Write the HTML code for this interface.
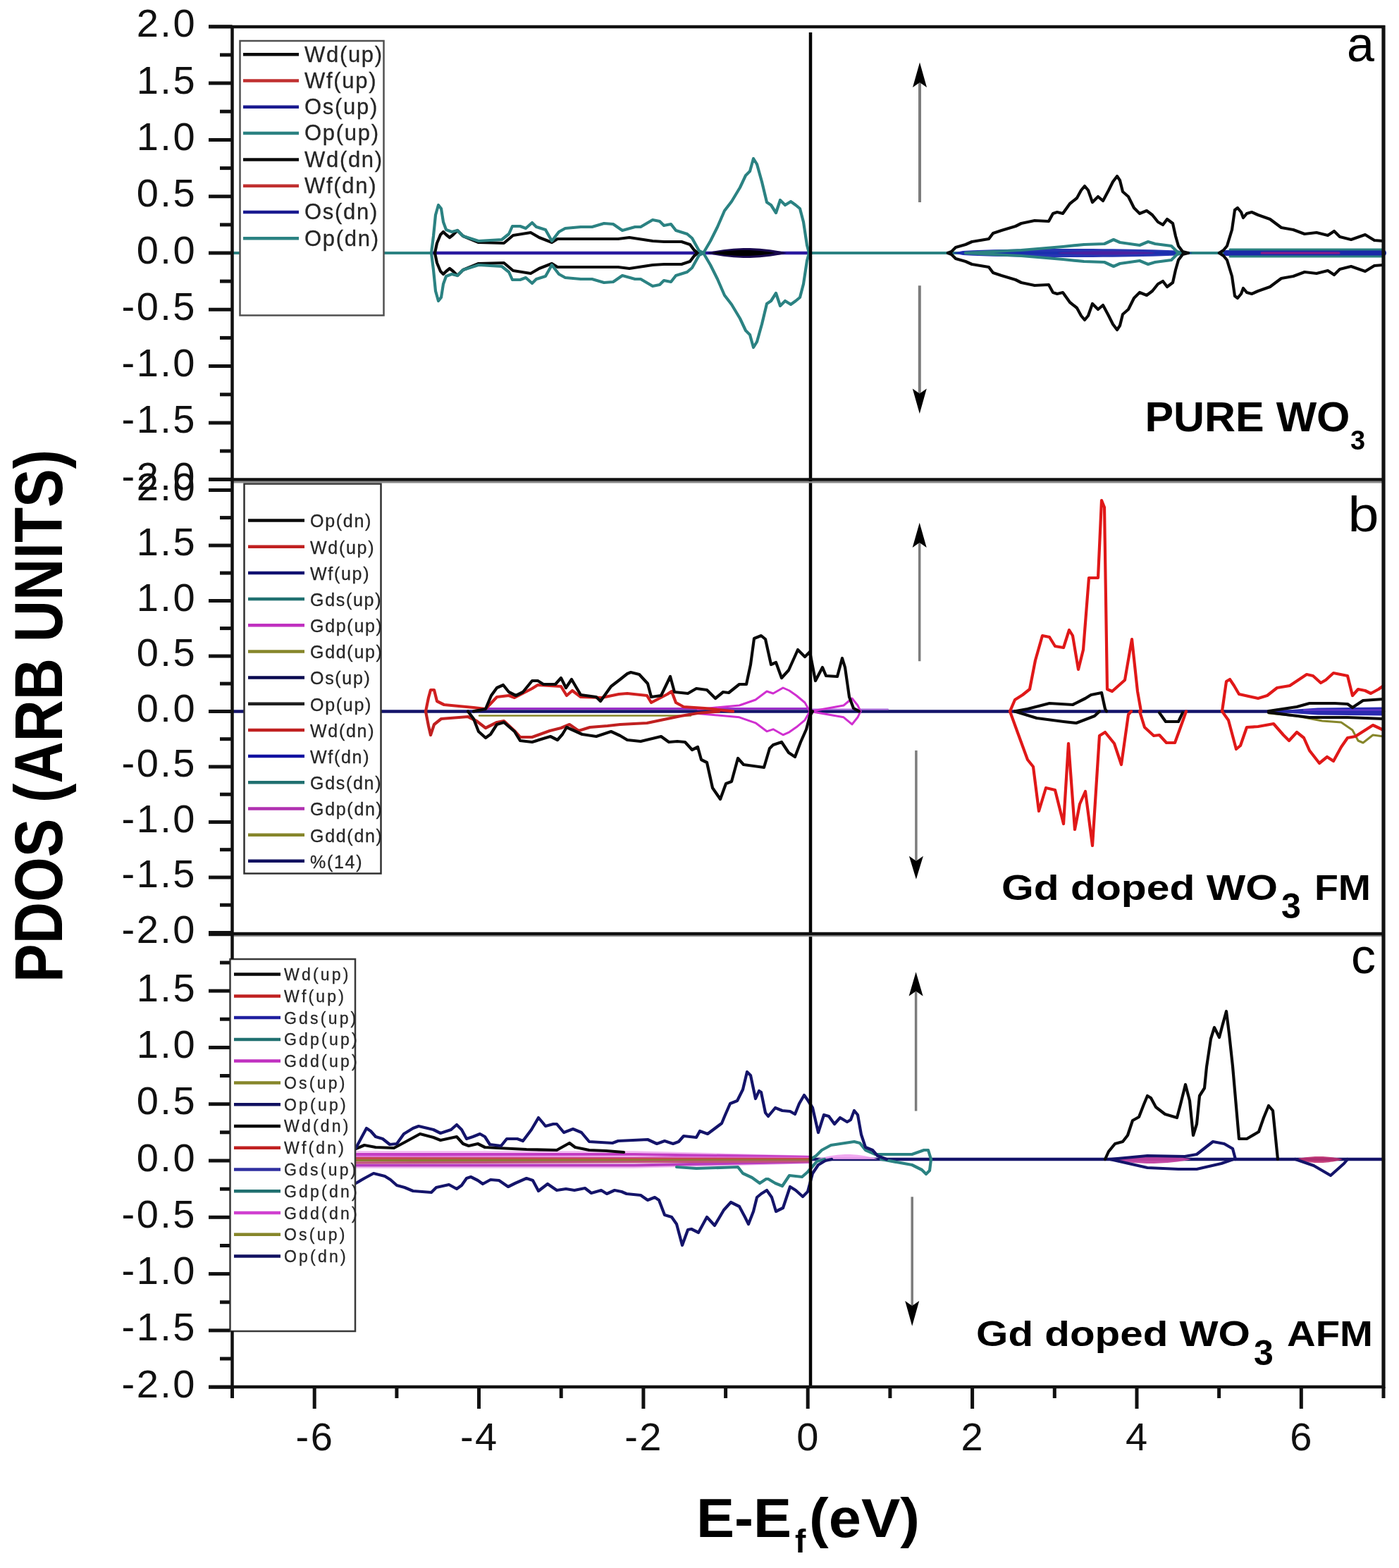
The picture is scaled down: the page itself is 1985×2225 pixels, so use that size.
<!DOCTYPE html>
<html><head><meta charset="utf-8"><title>PDOS</title>
<style>html,body{margin:0;padding:0;background:#fff;}svg{display:block;}</style>
</head><body>
<svg width="1985" height="2225" viewBox="0 0 1985 2225" font-family="'Liberation Sans', Arial, sans-serif">
<rect width="1985" height="2225" fill="#fff"/>
<polyline points="329.5,359.0 1963.0,359.0" fill="none" stroke="#2b8282" stroke-width="4" stroke-linejoin="round" stroke-linecap="round" />
<polyline points="613.0,359.0 1150.0,359.0" fill="none" stroke="#2a1aa0" stroke-width="4.5" stroke-linejoin="round" stroke-linecap="round" />
<polygon points="1352.0,359.0 1366.2,356.1 1380.3,355.3 1394.5,354.7 1408.7,354.3 1422.8,354.0 1437.0,353.7 1451.2,353.5 1465.3,353.3 1479.5,353.2 1493.7,353.1 1507.8,353.0 1522.0,353.0 1536.2,353.0 1550.3,353.1 1564.5,353.2 1578.7,353.3 1592.8,353.5 1607.0,353.7 1621.2,354.0 1635.3,354.3 1649.5,354.7 1663.7,355.3 1677.8,356.1 1692.0,359.0 1692.0,359.0 1677.8,361.9 1663.7,362.7 1649.5,363.3 1635.3,363.7 1621.2,364.0 1607.0,364.3 1592.8,364.5 1578.7,364.7 1564.5,364.8 1550.3,364.9 1536.2,365.0 1522.0,365.0 1507.8,365.0 1493.7,364.9 1479.5,364.8 1465.3,364.7 1451.2,364.5 1437.0,364.3 1422.8,364.0 1408.7,363.7 1394.5,363.3 1380.3,362.7 1366.2,361.9 1352.0,359.0" fill="#1a2ab0" fill-opacity="0.95" stroke="none"/>
<polygon points="1500.0,359.0 1505.8,358.1 1511.7,357.7 1517.5,357.5 1523.3,357.2 1529.2,357.0 1535.0,356.9 1540.8,356.8 1546.7,356.7 1552.5,356.6 1558.3,356.5 1564.2,356.5 1570.0,356.5 1575.8,356.5 1581.7,356.5 1587.5,356.6 1593.3,356.7 1599.2,356.8 1605.0,356.9 1610.8,357.0 1616.7,357.2 1622.5,357.5 1628.3,357.7 1634.2,358.1 1640.0,359.0 1640.0,359.0 1634.2,359.9 1628.3,360.3 1622.5,360.5 1616.7,360.8 1610.8,361.0 1605.0,361.1 1599.2,361.2 1593.3,361.3 1587.5,361.4 1581.7,361.5 1575.8,361.5 1570.0,361.5 1564.2,361.5 1558.3,361.5 1552.5,361.4 1546.7,361.3 1540.8,361.2 1535.0,361.1 1529.2,361.0 1523.3,360.8 1517.5,360.5 1511.7,360.3 1505.8,359.9 1500.0,359.0" fill="#5020a0" fill-opacity="0.9" stroke="none"/>
<polyline points="1740.0,359.0 1963.0,359.0" fill="none" stroke="#1a2aa8" stroke-width="8" stroke-linejoin="round" stroke-linecap="round" />
<polyline points="1745.0,354.0 1963.0,354.0" fill="none" stroke="#2b8282" stroke-width="3" stroke-linejoin="round" stroke-linecap="round" />
<polyline points="1745.0,364.0 1963.0,364.0" fill="none" stroke="#2b8282" stroke-width="3" stroke-linejoin="round" stroke-linecap="round" />
<polyline points="1790.0,359.0 1900.0,359.0" fill="none" stroke="#8a1a8a" stroke-width="3" stroke-linejoin="round" stroke-linecap="round" />
<polygon points="1003.0,359.0 1007.7,357.6 1012.4,356.6 1017.1,355.8 1021.8,355.0 1026.5,354.3 1031.2,353.7 1036.0,353.2 1040.7,352.8 1045.4,352.4 1050.1,352.2 1054.8,352.0 1059.5,352.0 1064.2,352.0 1068.9,352.2 1073.6,352.4 1078.3,352.8 1083.0,353.2 1087.8,353.7 1092.5,354.3 1097.2,355.0 1101.9,355.8 1106.6,356.6 1111.3,357.6 1116.0,359.0 1116.0,359.0 1111.3,360.4 1106.6,361.4 1101.9,362.2 1097.2,363.0 1092.5,363.7 1087.8,364.3 1083.0,364.8 1078.3,365.2 1073.6,365.6 1068.9,365.8 1064.2,366.0 1059.5,366.0 1054.8,366.0 1050.1,365.8 1045.4,365.6 1040.7,365.2 1036.0,364.8 1031.2,364.3 1026.5,363.7 1021.8,363.0 1017.1,362.2 1012.4,361.4 1007.7,360.4 1003.0,359.0" fill="#1a0a50" fill-opacity="1.0" stroke="none"/>
<polygon points="1010.0,359.0 1013.8,358.2 1017.5,357.6 1021.2,357.1 1025.0,356.7 1028.8,356.3 1032.5,356.0 1036.2,355.7 1040.0,355.4 1043.8,355.2 1047.5,355.1 1051.2,355.0 1055.0,355.0 1058.8,355.0 1062.5,355.1 1066.2,355.2 1070.0,355.4 1073.8,355.7 1077.5,356.0 1081.2,356.3 1085.0,356.7 1088.8,357.1 1092.5,357.6 1096.2,358.2 1100.0,359.0 1100.0,359.0 1096.2,359.8 1092.5,360.4 1088.8,360.9 1085.0,361.3 1081.2,361.7 1077.5,362.0 1073.8,362.3 1070.0,362.6 1066.2,362.8 1062.5,362.9 1058.8,363.0 1055.0,363.0 1051.2,363.0 1047.5,362.9 1043.8,362.8 1040.0,362.6 1036.2,362.3 1032.5,362.0 1028.8,361.7 1025.0,361.3 1021.2,360.9 1017.5,360.4 1013.8,359.8 1010.0,359.0" fill="#000000" fill-opacity="1.0" stroke="none"/>
<polyline points="1370.0,359.0 1449.0,355.0 1508.0,350.0 1538.0,347.0 1567.0,346.0 1580.0,340.0 1589.0,344.0 1617.0,348.0 1629.0,343.0 1639.0,346.0 1662.0,349.0 1670.0,357.0 1675.0,359.0" fill="none" stroke="#2b8282" stroke-width="4.2" stroke-linejoin="round" stroke-linecap="round" />
<polyline points="1370.0,359.0 1449.0,363.0 1508.0,368.0 1538.0,371.0 1567.0,372.0 1580.0,378.0 1589.0,374.0 1617.0,370.0 1629.0,375.0 1639.0,372.0 1662.0,369.0 1670.0,361.0 1675.0,359.0" fill="none" stroke="#2b8282" stroke-width="4.2" stroke-linejoin="round" stroke-linecap="round" />
<polyline points="617.0,359.0 620.0,345.0 625.0,333.0 629.0,329.0 633.0,333.0 638.0,337.0 643.0,333.0 649.0,327.0 657.0,335.0 679.0,344.0 715.0,345.0 728.0,334.0 753.0,330.0 765.0,337.0 783.0,344.0 791.0,339.0 827.0,339.0 877.0,339.0 893.0,337.0 926.0,342.0 942.0,343.0 967.0,343.0 979.0,347.0 985.0,355.0 990.0,359.0" fill="none" stroke="#0a0a0a" stroke-width="4.2" stroke-linejoin="round" stroke-linecap="round" />
<polyline points="617.0,359.0 620.0,373.0 625.0,385.0 629.0,389.0 633.0,385.0 638.0,381.0 643.0,385.0 649.0,391.0 657.0,383.0 679.0,374.0 715.0,373.0 728.0,384.0 753.0,388.0 765.0,381.0 783.0,374.0 791.0,379.0 827.0,379.0 877.0,379.0 893.0,381.0 926.0,376.0 942.0,375.0 967.0,375.0 979.0,371.0 985.0,363.0 990.0,359.0" fill="none" stroke="#0a0a0a" stroke-width="4.2" stroke-linejoin="round" stroke-linecap="round" />
<polyline points="1345.0,359.0 1350.0,357.0 1356.0,351.0 1370.0,347.0 1379.0,343.0 1403.0,339.0 1409.0,331.0 1421.0,327.0 1441.0,321.0 1449.0,317.0 1468.0,313.0 1488.0,314.0 1494.0,303.0 1500.0,301.0 1508.0,303.0 1518.0,289.0 1528.0,281.0 1534.0,270.0 1539.0,264.0 1544.0,270.0 1550.0,287.0 1558.0,279.0 1565.0,285.0 1573.0,270.0 1579.0,258.0 1585.0,250.0 1589.0,256.0 1593.0,272.0 1601.0,279.0 1609.0,295.0 1617.0,303.0 1627.0,299.0 1635.0,305.0 1643.0,315.0 1650.0,319.0 1656.0,311.0 1664.0,317.0 1668.0,335.0 1672.0,349.0 1678.0,357.0 1686.0,359.0" fill="none" stroke="#0a0a0a" stroke-width="4.2" stroke-linejoin="round" stroke-linecap="round" />
<polyline points="1345.0,359.0 1350.0,361.0 1356.0,367.0 1370.0,371.0 1379.0,375.0 1403.0,379.0 1409.0,387.0 1421.0,391.0 1441.0,397.0 1449.0,401.0 1468.0,405.0 1488.0,404.0 1494.0,415.0 1500.0,417.0 1508.0,415.0 1518.0,429.0 1528.0,437.0 1534.0,448.0 1539.0,454.0 1544.0,448.0 1550.0,431.0 1558.0,439.0 1565.0,433.0 1573.0,448.0 1579.0,460.0 1585.0,468.0 1589.0,462.0 1593.0,446.0 1601.0,439.0 1609.0,423.0 1617.0,415.0 1627.0,419.0 1635.0,413.0 1643.0,403.0 1650.0,399.0 1656.0,407.0 1664.0,401.0 1668.0,383.0 1672.0,369.0 1678.0,361.0 1686.0,359.0" fill="none" stroke="#0a0a0a" stroke-width="4.2" stroke-linejoin="round" stroke-linecap="round" />
<polyline points="1730.0,359.0 1736.0,355.0 1741.0,349.0 1748.0,326.0 1752.0,298.0 1756.0,295.0 1761.0,301.0 1764.0,309.0 1769.0,303.0 1776.0,301.0 1785.0,305.0 1802.0,311.0 1818.0,323.0 1835.0,326.0 1851.0,332.0 1868.0,330.0 1884.0,334.0 1893.0,328.0 1901.0,336.0 1917.0,340.0 1937.0,333.0 1950.0,341.0 1963.0,342.0" fill="none" stroke="#0a0a0a" stroke-width="4.2" stroke-linejoin="round" stroke-linecap="round" />
<polyline points="1730.0,359.0 1736.0,363.0 1741.0,369.0 1748.0,392.0 1752.0,420.0 1756.0,423.0 1761.0,417.0 1764.0,409.0 1769.0,415.0 1776.0,417.0 1785.0,413.0 1802.0,407.0 1818.0,395.0 1835.0,392.0 1851.0,386.0 1868.0,388.0 1884.0,384.0 1893.0,390.0 1901.0,382.0 1917.0,378.0 1937.0,385.0 1950.0,377.0 1963.0,376.0" fill="none" stroke="#0a0a0a" stroke-width="4.2" stroke-linejoin="round" stroke-linecap="round" />
<polyline points="612.0,359.0 615.0,335.0 618.0,305.0 622.0,291.0 626.0,296.0 629.0,315.0 633.0,326.0 641.0,329.0 649.0,327.0 657.0,335.0 679.0,342.0 712.0,340.0 722.0,332.0 727.0,321.0 738.0,321.0 746.0,324.0 755.0,316.0 761.0,322.0 774.0,326.0 783.0,342.0 793.0,329.0 802.0,324.0 824.0,322.0 840.0,322.0 857.0,317.0 870.0,318.0 883.0,327.0 901.0,322.0 909.0,322.0 926.0,312.0 936.0,314.0 942.0,320.0 952.0,318.0 959.0,327.0 975.0,332.0 982.0,338.0 992.0,356.0 998.0,359.0 1008.0,342.0 1018.0,322.0 1028.0,299.0 1038.0,286.0 1050.0,266.0 1058.0,249.0 1064.0,243.0 1069.0,225.0 1074.0,233.0 1081.0,258.0 1088.0,287.0 1094.0,291.0 1101.0,302.0 1107.0,284.0 1114.0,291.0 1122.0,286.0 1129.0,291.0 1135.0,296.0 1140.0,315.0 1145.0,348.0 1148.0,359.0" fill="none" stroke="#2b8282" stroke-width="4.2" stroke-linejoin="round" stroke-linecap="round" />
<polyline points="612.0,359.0 615.0,383.0 618.0,413.0 622.0,427.0 626.0,422.0 629.0,403.0 633.0,392.0 641.0,389.0 649.0,391.0 657.0,383.0 679.0,376.0 712.0,378.0 722.0,386.0 727.0,397.0 738.0,397.0 746.0,394.0 755.0,402.0 761.0,396.0 774.0,392.0 783.0,376.0 793.0,389.0 802.0,394.0 824.0,396.0 840.0,396.0 857.0,401.0 870.0,400.0 883.0,391.0 901.0,396.0 909.0,396.0 926.0,406.0 936.0,404.0 942.0,398.0 952.0,400.0 959.0,391.0 975.0,386.0 982.0,380.0 992.0,362.0 998.0,359.0 1008.0,376.0 1018.0,396.0 1028.0,419.0 1038.0,432.0 1050.0,452.0 1058.0,469.0 1064.0,475.0 1069.0,493.0 1074.0,485.0 1081.0,460.0 1088.0,431.0 1094.0,427.0 1101.0,416.0 1107.0,434.0 1114.0,427.0 1122.0,432.0 1129.0,427.0 1135.0,422.0 1140.0,403.0 1145.0,370.0 1148.0,359.0" fill="none" stroke="#2b8282" stroke-width="4.2" stroke-linejoin="round" stroke-linecap="round" />
<polyline points="329.5,1009.4 1963.0,1009.4" fill="none" stroke="#14146a" stroke-width="4.5" stroke-linejoin="round" stroke-linecap="round" />
<polyline points="690.0,1005.4 1150.0,1005.4" fill="none" stroke="#9a30c8" stroke-width="3" stroke-linejoin="round" stroke-linecap="round" />
<polyline points="680.0,1015.4 980.0,1015.4" fill="none" stroke="#86862a" stroke-width="2.5" stroke-linejoin="round" stroke-linecap="round" />
<polyline points="1150.0,1006.4 1260.0,1006.4" fill="none" stroke="#b070e0" stroke-width="2" stroke-linejoin="round" stroke-linecap="round" />
<polygon points="1805.0,1009.4 1840.0,1006.4 1870.0,1004.4 1963.0,1003.4 1963.0,1015.4 1870.0,1014.4 1840.0,1012.4 1805.0,1009.4" fill="#2a2ab0"/>
<polyline points="1850.0,1007.4 1963.0,1007.4" fill="none" stroke="#6a3ad0" stroke-width="2" stroke-linejoin="round" stroke-linecap="round" />
<polyline points="1800.0,1012.0 1840.0,1016.0 1876.0,1023.0 1903.0,1025.0 1919.0,1036.0 1927.0,1051.0 1934.0,1054.0 1948.0,1043.0 1963.0,1045.0" fill="none" stroke="#86862a" stroke-width="3" stroke-linejoin="round" stroke-linecap="round" />
<polyline points="990.0,1006.4 1049.0,1001.0 1072.0,993.0 1088.0,981.0 1097.0,984.0 1111.0,976.0 1120.0,980.0 1130.0,987.0 1142.0,997.0 1149.0,1009.4" fill="none" stroke="#d030d0" stroke-width="3" stroke-linejoin="round" stroke-linecap="round" />
<polyline points="990.0,1012.4 1049.0,1017.8 1072.0,1025.8 1088.0,1037.8 1097.0,1034.8 1111.0,1042.8 1120.0,1038.8 1130.0,1031.8 1142.0,1021.8 1149.0,1009.4" fill="none" stroke="#d030d0" stroke-width="3" stroke-linejoin="round" stroke-linecap="round" />
<polyline points="1150.0,1009.4 1197.0,1001.0 1209.0,991.0 1217.0,1001.0 1221.0,1009.4" fill="none" stroke="#d030d0" stroke-width="3" stroke-linejoin="round" stroke-linecap="round" />
<polyline points="1150.0,1009.4 1197.0,1017.8 1209.0,1027.8 1217.0,1017.8 1221.0,1009.4" fill="none" stroke="#d030d0" stroke-width="3" stroke-linejoin="round" stroke-linecap="round" />
<polyline points="604.0,1009.4 608.0,990.0 611.0,979.0 616.0,979.0 620.0,995.0 630.0,1000.0 672.0,1004.0 689.0,1006.0 705.0,989.0 722.0,987.0 730.0,990.0 755.0,977.0 763.0,972.0 796.0,974.0 804.0,987.0 812.0,980.0 824.0,989.0 854.0,990.0 878.0,985.0 890.0,984.0 918.0,987.0 924.0,997.0 947.0,985.0 953.0,981.0 959.0,997.0 970.0,1003.0 1000.0,1005.0 1040.0,1009.4" fill="none" stroke="#d02020" stroke-width="4.2" stroke-linejoin="round" stroke-linecap="round" />
<polyline points="604.0,1009.4 608.0,1030.0 611.0,1043.0 616.0,1028.0 626.0,1020.0 664.0,1017.0 676.0,1023.0 689.0,1033.0 705.0,1025.0 715.0,1023.0 730.0,1037.0 738.0,1046.0 755.0,1046.0 780.0,1037.0 796.0,1033.0 808.0,1028.0 821.0,1037.0 837.0,1032.0 862.0,1030.0 880.0,1028.0 918.0,1026.0 966.0,1016.0 990.0,1012.0 1020.0,1009.4" fill="none" stroke="#c02020" stroke-width="4.2" stroke-linejoin="round" stroke-linecap="round" />
<polyline points="672.0,1009.4 689.0,1006.0 697.0,987.0 705.0,976.0 714.0,972.0 722.0,982.0 732.0,987.0 742.0,982.0 755.0,966.0 763.0,966.0 771.0,971.0 788.0,971.0 796.0,962.0 803.0,976.0 811.0,964.0 818.0,976.0 824.0,986.0 846.0,989.0 852.0,995.0 867.0,974.0 880.0,964.0 890.0,956.0 895.0,954.0 907.0,957.0 919.0,970.0 924.0,989.0 938.0,987.0 951.0,960.0 957.0,982.0 976.0,984.0 988.0,977.0 1003.0,979.0 1015.0,991.0 1026.0,982.0 1034.0,983.0 1049.0,971.0 1059.0,971.0 1065.0,943.0 1070.0,906.0 1080.0,902.0 1086.0,907.0 1094.0,943.0 1101.0,940.0 1109.0,962.0 1119.0,951.0 1132.0,922.0 1142.0,932.0 1149.0,925.0 1157.0,966.0 1167.0,947.0 1172.0,959.0 1188.0,960.0 1195.0,934.0 1199.0,947.0 1205.0,989.0 1211.0,1005.0 1219.0,1009.4" fill="none" stroke="#0a0a0a" stroke-width="4.2" stroke-linejoin="round" stroke-linecap="round" />
<polyline points="664.0,1009.4 672.0,1020.0 679.0,1038.0 689.0,1047.0 696.0,1042.0 705.0,1028.0 715.0,1025.0 730.0,1038.0 738.0,1051.0 755.0,1053.0 771.0,1048.0 781.0,1045.0 791.0,1050.0 798.0,1042.0 804.0,1032.0 826.0,1042.0 846.0,1045.0 867.0,1038.0 880.0,1044.0 890.0,1050.0 909.0,1052.0 938.0,1045.0 949.0,1053.0 961.0,1052.0 972.0,1053.0 982.0,1064.0 990.0,1060.0 995.0,1078.0 1003.0,1082.0 1011.0,1118.0 1022.0,1134.0 1030.0,1112.0 1038.0,1109.0 1047.0,1076.0 1055.0,1085.0 1084.0,1089.0 1092.0,1062.0 1097.0,1057.0 1109.0,1053.0 1119.0,1068.0 1128.0,1074.0 1136.0,1053.0 1144.0,1035.0 1149.0,1016.0 1153.0,1009.4" fill="none" stroke="#0a0a0a" stroke-width="4.2" stroke-linejoin="round" stroke-linecap="round" />
<polyline points="1440.0,1009.4 1458.0,1006.0 1489.0,998.0 1522.0,1000.0 1540.0,991.0 1548.0,986.0 1563.0,983.0 1568.0,1006.0 1570.0,1009.4" fill="none" stroke="#0a0a0a" stroke-width="4.2" stroke-linejoin="round" stroke-linecap="round" />
<polyline points="1440.0,1009.4 1471.0,1019.0 1509.0,1024.0 1527.0,1026.0 1553.0,1016.0 1560.0,1009.4" fill="none" stroke="#0a0a0a" stroke-width="4.2" stroke-linejoin="round" stroke-linecap="round" />
<polyline points="1645.0,1011.4 1654.0,1024.0 1672.0,1024.0 1678.0,1011.4" fill="none" stroke="#0a0a0a" stroke-width="4.2" stroke-linejoin="round" stroke-linecap="round" />
<polyline points="1433.0,1009.4 1440.0,993.0 1451.0,986.0 1461.0,978.0 1469.0,937.0 1479.0,902.0 1489.0,904.0 1497.0,917.0 1509.0,919.0 1517.0,894.0 1522.0,902.0 1530.0,950.0 1537.0,922.0 1545.0,820.0 1558.0,820.0 1563.0,710.0 1567.0,720.0 1571.0,978.0 1578.0,981.0 1596.0,965.0 1606.0,907.0 1614.0,981.0 1619.0,1009.4" fill="none" stroke="#e01818" stroke-width="4.2" stroke-linejoin="round" stroke-linecap="round" />
<polyline points="1433.0,1009.4 1443.0,1037.0 1458.0,1078.0 1466.0,1088.0 1474.0,1151.0 1484.0,1118.0 1497.0,1121.0 1509.0,1169.0 1516.0,1055.0 1525.0,1177.0 1532.0,1141.0 1540.0,1123.0 1550.0,1200.0 1560.0,1044.0 1568.0,1039.0 1581.0,1055.0 1591.0,1085.0 1601.0,1014.0 1605.0,1009.4" fill="none" stroke="#e01818" stroke-width="4.2" stroke-linejoin="round" stroke-linecap="round" />
<polyline points="1617.0,1009.4 1624.0,1032.0 1637.0,1044.0 1645.0,1043.0 1655.0,1054.0 1667.0,1054.0 1675.0,1032.0 1680.0,1018.0 1683.0,1009.4" fill="none" stroke="#e01818" stroke-width="4.2" stroke-linejoin="round" stroke-linecap="round" />
<polyline points="1734.0,1009.4 1740.0,967.0 1745.0,964.0 1751.0,973.0 1758.0,985.0 1785.0,991.0 1798.0,987.0 1812.0,976.0 1830.0,973.0 1854.0,957.0 1863.0,959.0 1874.0,969.0 1881.0,965.0 1892.0,955.0 1912.0,959.0 1919.0,987.0 1927.0,978.0 1937.0,980.0 1945.0,984.0 1956.0,978.0 1963.0,973.0" fill="none" stroke="#e01818" stroke-width="4.2" stroke-linejoin="round" stroke-linecap="round" />
<polyline points="1734.0,1009.4 1743.0,1022.0 1754.0,1063.0 1760.0,1058.0 1769.0,1032.0 1785.0,1031.0 1807.0,1027.0 1821.0,1043.0 1829.0,1051.0 1840.0,1039.0 1850.0,1047.0 1858.0,1065.0 1872.0,1083.0 1883.0,1074.0 1892.0,1080.0 1903.0,1060.0 1912.0,1047.0 1923.0,1045.0 1948.0,1029.0 1963.0,1036.0" fill="none" stroke="#e01818" stroke-width="4.2" stroke-linejoin="round" stroke-linecap="round" />
<polyline points="1800.0,1009.0 1840.0,1003.0 1858.0,998.0 1894.0,998.0 1912.0,999.0 1919.0,1004.0 1934.0,994.0 1963.0,992.0" fill="none" stroke="#0a0a0a" stroke-width="4.2" stroke-linejoin="round" stroke-linecap="round" />
<polyline points="1800.0,1011.0 1858.0,1018.0 1912.0,1018.0 1963.0,1020.0" fill="none" stroke="#0a0a0a" stroke-width="4.2" stroke-linejoin="round" stroke-linecap="round" />
<polyline points="329.5,1645.0 1963.0,1645.0" fill="none" stroke="#14146a" stroke-width="4.5" stroke-linejoin="round" stroke-linecap="round" />
<polyline points="505.0,1656.5 900.0,1656.5 1150.0,1650.0" fill="none" stroke="#f0b8f0" stroke-width="2.5" stroke-linejoin="round" stroke-linecap="round" stroke-linecap="butt"/>
<polyline points="505.0,1634.5 900.0,1634.5 1150.0,1641.0" fill="none" stroke="#f0b8f0" stroke-width="2.5" stroke-linejoin="round" stroke-linecap="round" stroke-linecap="butt"/>
<polyline points="505.0,1638.0 900.0,1638.0 1150.0,1642.0" fill="none" stroke="#c43cc4" stroke-width="4" stroke-linejoin="round" stroke-linecap="round" stroke-linecap="butt"/>
<polyline points="505.0,1653.5 900.0,1653.5 1150.0,1648.5" fill="none" stroke="#b83cc0" stroke-width="4" stroke-linejoin="round" stroke-linecap="round" stroke-linecap="butt"/>
<polyline points="505.0,1641.0 1150.0,1643.0" fill="none" stroke="#e070d8" stroke-width="2.5" stroke-linejoin="round" stroke-linecap="round" stroke-linecap="butt"/>
<polyline points="505.0,1643.5 1150.0,1644.5" fill="none" stroke="#c24a50" stroke-width="3" stroke-linejoin="round" stroke-linecap="round" stroke-linecap="butt"/>
<polyline points="505.0,1646.5 1150.0,1646.5" fill="none" stroke="#8c7a34" stroke-width="3" stroke-linejoin="round" stroke-linecap="round" stroke-linecap="butt"/>
<polyline points="505.0,1649.8 1150.0,1648.0" fill="none" stroke="#c05478" stroke-width="3.2" stroke-linejoin="round" stroke-linecap="round" stroke-linecap="butt"/>
<polygon points="1160.0,1645.0 1163.5,1643.6 1167.1,1642.6 1170.6,1641.8 1174.2,1641.0 1177.7,1640.3 1181.2,1639.7 1184.8,1639.2 1188.3,1638.8 1191.9,1638.4 1195.4,1638.2 1199.0,1638.0 1202.5,1638.0 1206.0,1638.0 1209.6,1638.2 1213.1,1638.4 1216.7,1638.8 1220.2,1639.2 1223.8,1639.7 1227.3,1640.3 1230.8,1641.0 1234.4,1641.8 1237.9,1642.6 1241.5,1643.6 1245.0,1645.0 1245.0,1645.0 1241.5,1645.0 1237.9,1645.0 1234.4,1645.0 1230.8,1645.0 1227.3,1645.0 1223.8,1645.0 1220.2,1645.0 1216.7,1645.0 1213.1,1645.0 1209.6,1645.0 1206.0,1645.0 1202.5,1645.0 1199.0,1645.0 1195.4,1645.0 1191.9,1645.0 1188.3,1645.0 1184.8,1645.0 1181.2,1645.0 1177.7,1645.0 1174.2,1645.0 1170.6,1645.0 1167.1,1645.0 1163.5,1645.0 1160.0,1645.0" fill="#f0a0f0" fill-opacity="0.9" stroke="none"/>
<polygon points="1575.0,1645.0 1579.8,1644.0 1584.6,1643.3 1589.4,1642.7 1594.2,1642.1 1599.0,1641.6 1603.8,1641.2 1608.5,1640.8 1613.3,1640.5 1618.1,1640.3 1622.9,1640.1 1627.7,1640.0 1632.5,1640.0 1637.3,1640.0 1642.1,1640.1 1646.9,1640.3 1651.7,1640.5 1656.5,1640.8 1661.2,1641.2 1666.0,1641.6 1670.8,1642.1 1675.6,1642.7 1680.4,1643.3 1685.2,1644.0 1690.0,1645.0 1690.0,1645.0 1685.2,1646.2 1680.4,1647.0 1675.6,1647.8 1670.8,1648.4 1666.0,1649.0 1661.2,1649.5 1656.5,1650.0 1651.7,1650.3 1646.9,1650.6 1642.1,1650.8 1637.3,1651.0 1632.5,1651.0 1627.7,1651.0 1622.9,1650.8 1618.1,1650.6 1613.3,1650.3 1608.5,1650.0 1603.8,1649.5 1599.0,1649.0 1594.2,1648.4 1589.4,1647.8 1584.6,1647.0 1579.8,1646.2 1575.0,1645.0" fill="#c040a0" fill-opacity="0.95" stroke="none"/>
<polygon points="1838.0,1645.0 1840.8,1644.2 1843.6,1643.6 1846.4,1643.1 1849.2,1642.7 1852.0,1642.3 1854.8,1642.0 1857.5,1641.7 1860.3,1641.4 1863.1,1641.2 1865.9,1641.1 1868.7,1641.0 1871.5,1641.0 1874.3,1641.0 1877.1,1641.1 1879.9,1641.2 1882.7,1641.4 1885.5,1641.7 1888.2,1642.0 1891.0,1642.3 1893.8,1642.7 1896.6,1643.1 1899.4,1643.6 1902.2,1644.2 1905.0,1645.0 1905.0,1645.0 1902.2,1646.0 1899.4,1646.7 1896.6,1647.3 1893.8,1647.9 1891.0,1648.4 1888.2,1648.8 1885.5,1649.2 1882.7,1649.5 1879.9,1649.7 1877.1,1649.9 1874.3,1650.0 1871.5,1650.0 1868.7,1650.0 1865.9,1649.9 1863.1,1649.7 1860.3,1649.5 1857.5,1649.2 1854.8,1648.8 1852.0,1648.4 1849.2,1647.9 1846.4,1647.3 1843.6,1646.7 1840.8,1646.0 1838.0,1645.0" fill="#c03070" fill-opacity="0.9" stroke="none"/>
<polyline points="1150.0,1645.0 1158.0,1640.0 1166.0,1632.0 1179.0,1625.0 1212.0,1620.0 1220.0,1622.0 1228.0,1632.0 1242.0,1638.0 1294.0,1638.0 1311.0,1632.0 1317.0,1632.0 1321.0,1645.0" fill="none" stroke="#2b8282" stroke-width="4.2" stroke-linejoin="round" stroke-linecap="round" />
<polyline points="960.0,1656.0 988.0,1658.0 1047.0,1656.0 1054.0,1665.0 1067.0,1671.0 1078.0,1679.0 1087.0,1673.0 1090.0,1673.0 1100.0,1679.0 1110.0,1683.0 1120.0,1668.0 1138.0,1670.0 1146.0,1663.0 1153.0,1655.0 1159.0,1648.0 1170.0,1645.0" fill="none" stroke="#2b8282" stroke-width="4.2" stroke-linejoin="round" stroke-linecap="round" />
<polyline points="1250.0,1645.0 1294.0,1653.0 1308.0,1660.0 1314.0,1666.0 1319.0,1661.0 1321.0,1645.0" fill="none" stroke="#2b8282" stroke-width="4.2" stroke-linejoin="round" stroke-linecap="round" />
<polyline points="505.0,1630.0 510.0,1628.0 517.0,1625.0 533.0,1628.0 559.0,1629.0 574.0,1621.0 596.0,1609.0 615.0,1614.0 625.0,1618.0 648.0,1613.0 657.0,1623.0 665.0,1626.0 678.0,1623.0 688.0,1628.0 706.0,1629.0 747.0,1631.0 790.0,1632.0 808.0,1622.0 816.0,1628.0 836.0,1632.0 860.0,1633.0 885.0,1635.0" fill="none" stroke="#0a0a0a" stroke-width="4.2" stroke-linejoin="round" stroke-linecap="round" />
<polyline points="505.0,1629.0 513.0,1614.0 520.0,1601.0 526.0,1605.0 533.0,1613.0 543.0,1616.0 553.0,1624.0 563.0,1623.0 573.0,1609.0 586.0,1601.0 594.0,1598.0 615.0,1603.0 625.0,1608.0 640.0,1603.0 648.0,1596.0 655.0,1603.0 662.0,1616.0 671.0,1613.0 681.0,1609.0 688.0,1613.0 695.0,1624.0 711.0,1626.0 719.0,1616.0 734.0,1616.0 742.0,1619.0 754.0,1603.0 764.0,1586.0 770.0,1593.0 774.0,1598.0 785.0,1595.0 790.0,1595.0 800.0,1607.0 813.0,1602.0 825.0,1607.0 836.0,1620.0 869.0,1622.0 877.0,1619.0 919.0,1617.0 932.0,1623.0 943.0,1619.0 955.0,1623.0 963.0,1620.0 970.0,1612.0 988.0,1614.0 993.0,1605.0 1004.0,1609.0 1024.0,1594.0 1029.0,1582.0 1036.0,1566.0 1046.0,1562.0 1054.0,1546.0 1060.0,1521.0 1065.0,1526.0 1072.0,1559.0 1077.0,1548.0 1080.0,1550.0 1086.0,1579.0 1090.0,1584.0 1100.0,1572.0 1110.0,1576.0 1121.0,1577.0 1128.0,1581.0 1134.0,1566.0 1141.0,1554.0 1146.0,1561.0 1153.0,1572.0 1161.0,1607.0 1169.0,1582.0 1176.0,1584.0 1184.0,1595.0 1192.0,1586.0 1202.0,1592.0 1207.0,1589.0 1212.0,1576.0 1217.0,1582.0 1222.0,1610.0 1228.0,1628.0 1238.0,1632.0 1245.0,1640.0 1258.0,1645.0" fill="none" stroke="#14146a" stroke-width="4.2" stroke-linejoin="round" stroke-linecap="round" />
<polyline points="505.0,1679.0 517.0,1672.0 530.0,1665.0 546.0,1669.0 554.0,1674.0 563.0,1682.0 574.0,1685.0 586.0,1690.0 612.0,1692.0 619.0,1685.0 637.0,1681.0 648.0,1687.0 655.0,1682.0 662.0,1672.0 668.0,1670.0 678.0,1675.0 685.0,1680.0 696.0,1674.0 708.0,1675.0 721.0,1684.0 731.0,1679.0 747.0,1672.0 756.0,1675.0 764.0,1690.0 777.0,1680.0 790.0,1689.0 803.0,1687.0 815.0,1689.0 830.0,1686.0 839.0,1693.0 853.0,1689.0 861.0,1694.0 872.0,1689.0 882.0,1691.0 889.0,1694.0 909.0,1696.0 919.0,1703.0 929.0,1699.0 935.0,1703.0 943.0,1724.0 953.0,1727.0 960.0,1737.0 968.0,1767.0 976.0,1745.0 981.0,1744.0 991.0,1749.0 1003.0,1727.0 1014.0,1739.0 1027.0,1717.0 1037.0,1706.0 1049.0,1712.0 1057.0,1727.0 1062.0,1737.0 1069.0,1719.0 1074.0,1699.0 1080.0,1694.0 1088.0,1689.0 1095.0,1699.0 1101.0,1719.0 1111.0,1714.0 1121.0,1684.0 1129.0,1689.0 1139.0,1698.0 1146.0,1691.0 1153.0,1665.0 1161.0,1653.0 1171.0,1647.0 1180.0,1645.0" fill="none" stroke="#14146a" stroke-width="4.2" stroke-linejoin="round" stroke-linecap="round" />
<polyline points="1568.0,1645.0 1573.0,1634.0 1582.0,1623.0 1593.0,1620.0 1600.0,1611.0 1607.0,1590.0 1616.0,1585.0 1623.0,1567.0 1628.0,1555.0 1633.0,1558.0 1640.0,1571.0 1653.0,1581.0 1670.0,1586.0 1675.0,1567.0 1682.0,1539.0 1688.0,1562.0 1693.0,1611.0 1698.0,1595.0 1702.0,1555.0 1709.0,1544.0 1712.0,1514.0 1718.0,1474.0 1723.0,1458.0 1730.0,1472.0 1735.0,1453.0 1740.0,1435.0 1744.0,1467.0 1749.0,1513.0 1758.0,1616.0 1769.0,1616.0 1786.0,1606.0 1793.0,1586.0 1800.0,1569.0 1806.0,1576.0 1813.0,1645.0" fill="none" stroke="#0a0a0a" stroke-width="4.2" stroke-linejoin="round" stroke-linecap="round" />
<polyline points="1575.0,1645.0 1628.0,1640.0 1681.0,1641.0 1698.0,1638.0 1712.0,1627.0 1721.0,1620.0 1737.0,1623.0 1749.0,1630.0 1753.0,1645.0" fill="none" stroke="#14146a" stroke-width="4.2" stroke-linejoin="round" stroke-linecap="round" />
<polyline points="1575.0,1645.0 1628.0,1657.0 1672.0,1659.0 1698.0,1659.0 1733.0,1651.0 1750.0,1645.0" fill="none" stroke="#14146a" stroke-width="4.2" stroke-linejoin="round" stroke-linecap="round" />
<polyline points="1838.0,1645.0 1864.0,1654.0 1888.0,1668.0 1907.0,1651.0 1912.0,1645.0" fill="none" stroke="#14146a" stroke-width="4.2" stroke-linejoin="round" stroke-linecap="round" />
<line x1="1150.0" y1="46.0" x2="1150.0" y2="1968.0" stroke="#000" stroke-width="4.5" />
<line x1="1305.0" y1="117.0" x2="1305.0" y2="287.0" stroke="#7c7c7c" stroke-width="4.0" />
<polygon points="1305.0,88.6 1315.0,124.0 1305.0,117.0 1295.0,124.0" fill="#000"/>
<line x1="1304.8" y1="405.3" x2="1304.8" y2="558.4" stroke="#7c7c7c" stroke-width="4.0" />
<polygon points="1304.8,587.0 1314.8,551.4 1304.8,558.4 1294.8,551.4" fill="#000"/>
<line x1="1304.7" y1="770.0" x2="1304.7" y2="938.2" stroke="#7c7c7c" stroke-width="3.5" />
<polygon points="1304.7,741.8 1314.7,777.0 1304.7,770.0 1294.7,777.0" fill="#000"/>
<line x1="1299.9" y1="1064.9" x2="1299.9" y2="1221.8" stroke="#7c7c7c" stroke-width="3.5" />
<polygon points="1299.9,1247.7 1309.9,1214.8 1299.9,1221.8 1289.9,1214.8" fill="#000"/>
<line x1="1299.6" y1="1406.6" x2="1299.6" y2="1576.5" stroke="#7c7c7c" stroke-width="3.5" />
<polygon points="1299.6,1379.2 1309.6,1413.6 1299.6,1406.6 1289.6,1413.6" fill="#000"/>
<line x1="1294.2" y1="1698.3" x2="1294.2" y2="1853.1" stroke="#7c7c7c" stroke-width="3.5" />
<polygon points="1294.2,1881.7 1304.2,1846.1 1294.2,1853.1 1284.2,1846.1" fill="#000"/>
<rect x="340.5" y="58" width="204.0" height="389.5" fill="#fff" stroke="#505050" stroke-width="2.5"/>
<line x1="345.0" y1="77.2" x2="424.0" y2="77.2" stroke="#0a0a0a" stroke-width="4.5" />
<text x="432.0" y="87.5" font-size="31" text-anchor="start" font-weight="normal" fill="#262626" stroke="#262626" stroke-width="0.3" letter-spacing="1.7">Wd(up)</text>
<line x1="345.0" y1="114.5" x2="424.0" y2="114.5" stroke="#c03030" stroke-width="4.5" />
<text x="432.0" y="124.8" font-size="31" text-anchor="start" font-weight="normal" fill="#262626" stroke="#262626" stroke-width="0.3" letter-spacing="1.7">Wf(up)</text>
<line x1="345.0" y1="151.8" x2="424.0" y2="151.8" stroke="#1a1a90" stroke-width="4.5" />
<text x="432.0" y="162.1" font-size="31" text-anchor="start" font-weight="normal" fill="#262626" stroke="#262626" stroke-width="0.3" letter-spacing="1.7">Os(up)</text>
<line x1="345.0" y1="189.1" x2="424.0" y2="189.1" stroke="#2b8282" stroke-width="4.5" />
<text x="432.0" y="199.4" font-size="31" text-anchor="start" font-weight="normal" fill="#262626" stroke="#262626" stroke-width="0.3" letter-spacing="1.7">Op(up)</text>
<line x1="345.0" y1="226.4" x2="424.0" y2="226.4" stroke="#0a0a0a" stroke-width="4.5" />
<text x="432.0" y="236.7" font-size="31" text-anchor="start" font-weight="normal" fill="#262626" stroke="#262626" stroke-width="0.3" letter-spacing="1.7">Wd(dn)</text>
<line x1="345.0" y1="263.7" x2="424.0" y2="263.7" stroke="#c03030" stroke-width="4.5" />
<text x="432.0" y="274.0" font-size="31" text-anchor="start" font-weight="normal" fill="#262626" stroke="#262626" stroke-width="0.3" letter-spacing="1.7">Wf(dn)</text>
<line x1="345.0" y1="301.0" x2="424.0" y2="301.0" stroke="#1a1a90" stroke-width="4.5" />
<text x="432.0" y="311.3" font-size="31" text-anchor="start" font-weight="normal" fill="#262626" stroke="#262626" stroke-width="0.3" letter-spacing="1.7">Os(dn)</text>
<line x1="345.0" y1="338.3" x2="424.0" y2="338.3" stroke="#2b8282" stroke-width="4.5" />
<text x="432.0" y="348.6" font-size="31" text-anchor="start" font-weight="normal" fill="#262626" stroke="#262626" stroke-width="0.3" letter-spacing="1.7">Op(dn)</text>
<rect x="346.5" y="686.5" width="194.0" height="553.0" fill="#fff" stroke="#303030" stroke-width="2.5"/>
<line x1="352.0" y1="738.5" x2="432.0" y2="738.5" stroke="#0a0a0a" stroke-width="4.5" />
<text x="440.0" y="748.3" font-size="25" text-anchor="start" font-weight="normal" fill="#262626" stroke="#262626" stroke-width="0.3" letter-spacing="1.7">Op(dn)</text>
<line x1="352.0" y1="775.7" x2="432.0" y2="775.7" stroke="#c02020" stroke-width="4.5" />
<text x="440.0" y="785.5" font-size="25" text-anchor="start" font-weight="normal" fill="#262626" stroke="#262626" stroke-width="0.3" letter-spacing="1.7">Wd(up)</text>
<line x1="352.0" y1="812.9" x2="432.0" y2="812.9" stroke="#101070" stroke-width="4.5" />
<text x="440.0" y="822.7" font-size="25" text-anchor="start" font-weight="normal" fill="#262626" stroke="#262626" stroke-width="0.3" letter-spacing="1.7">Wf(up)</text>
<line x1="352.0" y1="850.0" x2="432.0" y2="850.0" stroke="#207070" stroke-width="4.5" />
<text x="440.0" y="859.8" font-size="25" text-anchor="start" font-weight="normal" fill="#262626" stroke="#262626" stroke-width="0.3" letter-spacing="1.7">Gds(up)</text>
<line x1="352.0" y1="887.2" x2="432.0" y2="887.2" stroke="#c030c0" stroke-width="4.5" />
<text x="440.0" y="897.0" font-size="25" text-anchor="start" font-weight="normal" fill="#262626" stroke="#262626" stroke-width="0.3" letter-spacing="1.7">Gdp(up)</text>
<line x1="352.0" y1="924.4" x2="432.0" y2="924.4" stroke="#86862a" stroke-width="4.5" />
<text x="440.0" y="934.2" font-size="25" text-anchor="start" font-weight="normal" fill="#262626" stroke="#262626" stroke-width="0.3" letter-spacing="1.7">Gdd(up)</text>
<line x1="352.0" y1="961.6" x2="432.0" y2="961.6" stroke="#0a0a50" stroke-width="4.5" />
<text x="440.0" y="971.4" font-size="25" text-anchor="start" font-weight="normal" fill="#262626" stroke="#262626" stroke-width="0.3" letter-spacing="1.7">Os(up)</text>
<line x1="352.0" y1="998.8" x2="432.0" y2="998.8" stroke="#202020" stroke-width="4.5" />
<text x="440.0" y="1008.6" font-size="25" text-anchor="start" font-weight="normal" fill="#262626" stroke="#262626" stroke-width="0.3" letter-spacing="1.7">Op(up)</text>
<line x1="352.0" y1="1035.9" x2="432.0" y2="1035.9" stroke="#c02020" stroke-width="4.5" />
<text x="440.0" y="1045.7" font-size="25" text-anchor="start" font-weight="normal" fill="#262626" stroke="#262626" stroke-width="0.3" letter-spacing="1.7">Wd(dn)</text>
<line x1="352.0" y1="1073.1" x2="432.0" y2="1073.1" stroke="#1010a0" stroke-width="4.5" />
<text x="440.0" y="1082.9" font-size="25" text-anchor="start" font-weight="normal" fill="#262626" stroke="#262626" stroke-width="0.3" letter-spacing="1.7">Wf(dn)</text>
<line x1="352.0" y1="1110.3" x2="432.0" y2="1110.3" stroke="#207070" stroke-width="4.5" />
<text x="440.0" y="1120.1" font-size="25" text-anchor="start" font-weight="normal" fill="#262626" stroke="#262626" stroke-width="0.3" letter-spacing="1.7">Gds(dn)</text>
<line x1="352.0" y1="1147.5" x2="432.0" y2="1147.5" stroke="#b030b0" stroke-width="4.5" />
<text x="440.0" y="1157.3" font-size="25" text-anchor="start" font-weight="normal" fill="#262626" stroke="#262626" stroke-width="0.3" letter-spacing="1.7">Gdp(dn)</text>
<line x1="352.0" y1="1184.7" x2="432.0" y2="1184.7" stroke="#86862a" stroke-width="4.5" />
<text x="440.0" y="1194.5" font-size="25" text-anchor="start" font-weight="normal" fill="#262626" stroke="#262626" stroke-width="0.3" letter-spacing="1.7">Gdd(dn)</text>
<line x1="352.0" y1="1221.8" x2="432.0" y2="1221.8" stroke="#101060" stroke-width="4.5" />
<text x="440.0" y="1231.6" font-size="25" text-anchor="start" font-weight="normal" fill="#262626" stroke="#262626" stroke-width="0.3" letter-spacing="1.7">%(14)</text>
<rect x="326.5" y="1361" width="177.5" height="528" fill="#fff" stroke="#383838" stroke-width="2.5"/>
<line x1="332.0" y1="1382.6" x2="398.0" y2="1382.6" stroke="#0a0a0a" stroke-width="4.5" />
<text x="403.0" y="1391.1" font-size="23" text-anchor="start" font-weight="normal" fill="#262626" stroke="#262626" stroke-width="0.3" letter-spacing="3.2">Wd(up)</text>
<line x1="332.0" y1="1413.4" x2="398.0" y2="1413.4" stroke="#c02020" stroke-width="4.5" />
<text x="403.0" y="1421.9" font-size="23" text-anchor="start" font-weight="normal" fill="#262626" stroke="#262626" stroke-width="0.3" letter-spacing="3.2">Wf(up)</text>
<line x1="332.0" y1="1444.1" x2="398.0" y2="1444.1" stroke="#2020a0" stroke-width="4.5" />
<text x="403.0" y="1452.6" font-size="23" text-anchor="start" font-weight="normal" fill="#262626" stroke="#262626" stroke-width="0.3" letter-spacing="3.2">Gds(up)</text>
<line x1="332.0" y1="1474.9" x2="398.0" y2="1474.9" stroke="#207070" stroke-width="4.5" />
<text x="403.0" y="1483.4" font-size="23" text-anchor="start" font-weight="normal" fill="#262626" stroke="#262626" stroke-width="0.3" letter-spacing="3.2">Gdp(up)</text>
<line x1="332.0" y1="1505.6" x2="398.0" y2="1505.6" stroke="#c030c0" stroke-width="4.5" />
<text x="403.0" y="1514.1" font-size="23" text-anchor="start" font-weight="normal" fill="#262626" stroke="#262626" stroke-width="0.3" letter-spacing="3.2">Gdd(up)</text>
<line x1="332.0" y1="1536.4" x2="398.0" y2="1536.4" stroke="#86862a" stroke-width="4.5" />
<text x="403.0" y="1544.9" font-size="23" text-anchor="start" font-weight="normal" fill="#262626" stroke="#262626" stroke-width="0.3" letter-spacing="3.2">Os(up)</text>
<line x1="332.0" y1="1567.2" x2="398.0" y2="1567.2" stroke="#101060" stroke-width="4.5" />
<text x="403.0" y="1575.7" font-size="23" text-anchor="start" font-weight="normal" fill="#262626" stroke="#262626" stroke-width="0.3" letter-spacing="3.2">Op(up)</text>
<line x1="332.0" y1="1597.9" x2="398.0" y2="1597.9" stroke="#0a0a0a" stroke-width="4.5" />
<text x="403.0" y="1606.4" font-size="23" text-anchor="start" font-weight="normal" fill="#262626" stroke="#262626" stroke-width="0.3" letter-spacing="3.2">Wd(dn)</text>
<line x1="332.0" y1="1628.7" x2="398.0" y2="1628.7" stroke="#c02020" stroke-width="4.5" />
<text x="403.0" y="1637.2" font-size="23" text-anchor="start" font-weight="normal" fill="#262626" stroke="#262626" stroke-width="0.3" letter-spacing="3.2">Wf(dn)</text>
<line x1="332.0" y1="1659.4" x2="398.0" y2="1659.4" stroke="#3030a0" stroke-width="4.5" />
<text x="403.0" y="1667.9" font-size="23" text-anchor="start" font-weight="normal" fill="#262626" stroke="#262626" stroke-width="0.3" letter-spacing="3.2">Gds(up)</text>
<line x1="332.0" y1="1690.2" x2="398.0" y2="1690.2" stroke="#207070" stroke-width="4.5" />
<text x="403.0" y="1698.7" font-size="23" text-anchor="start" font-weight="normal" fill="#262626" stroke="#262626" stroke-width="0.3" letter-spacing="3.2">Gdp(dn)</text>
<line x1="332.0" y1="1721.0" x2="398.0" y2="1721.0" stroke="#d040d0" stroke-width="4.5" />
<text x="403.0" y="1729.5" font-size="23" text-anchor="start" font-weight="normal" fill="#262626" stroke="#262626" stroke-width="0.3" letter-spacing="3.2">Gdd(dn)</text>
<line x1="332.0" y1="1751.7" x2="398.0" y2="1751.7" stroke="#86862a" stroke-width="4.5" />
<text x="403.0" y="1760.2" font-size="23" text-anchor="start" font-weight="normal" fill="#262626" stroke="#262626" stroke-width="0.3" letter-spacing="3.2">Os(up)</text>
<line x1="332.0" y1="1782.5" x2="398.0" y2="1782.5" stroke="#101060" stroke-width="4.5" />
<text x="403.0" y="1791.0" font-size="23" text-anchor="start" font-weight="normal" fill="#262626" stroke="#262626" stroke-width="0.3" letter-spacing="3.2">Op(dn)</text>
<g stroke="#111" stroke-width="4.5" fill="none">
<line x1="296" y1="38" x2="1965.0" y2="38"/>
<line x1="329.5" y1="684.3" x2="1963.0" y2="684.3" stroke="#8a8a8a" stroke-width="2.6"/>
<line x1="329.5" y1="1328.2" x2="1963.0" y2="1328.2" stroke="#9a9a9a" stroke-width="2.2"/>
<line x1="296" y1="680.5" x2="1965.0" y2="680.5"/>
<line x1="296" y1="1325" x2="1965.0" y2="1325"/>
<line x1="296" y1="1968" x2="1965.0" y2="1968"/>
<line x1="1963.0" y1="36" x2="1963.0" y2="1970" stroke-width="5.2"/>
<line x1="329.5" y1="36" x2="329.5" y2="1361"/>
<line x1="329.5" y1="1889" x2="329.5" y2="1984"/>
</g>
<line x1="296.0" y1="680.2" x2="329.5" y2="680.2" stroke="#111" stroke-width="5" />
<line x1="312.0" y1="640.0" x2="329.5" y2="640.0" stroke="#111" stroke-width="5" />
<line x1="296.0" y1="599.9" x2="329.5" y2="599.9" stroke="#111" stroke-width="5" />
<line x1="312.0" y1="559.8" x2="329.5" y2="559.8" stroke="#111" stroke-width="5" />
<line x1="296.0" y1="519.6" x2="329.5" y2="519.6" stroke="#111" stroke-width="5" />
<line x1="312.0" y1="479.4" x2="329.5" y2="479.4" stroke="#111" stroke-width="5" />
<line x1="296.0" y1="439.3" x2="329.5" y2="439.3" stroke="#111" stroke-width="5" />
<line x1="312.0" y1="399.1" x2="329.5" y2="399.1" stroke="#111" stroke-width="5" />
<line x1="296.0" y1="359.0" x2="329.5" y2="359.0" stroke="#111" stroke-width="5" />
<line x1="312.0" y1="318.9" x2="329.5" y2="318.9" stroke="#111" stroke-width="5" />
<line x1="296.0" y1="278.7" x2="329.5" y2="278.7" stroke="#111" stroke-width="5" />
<line x1="312.0" y1="238.6" x2="329.5" y2="238.6" stroke="#111" stroke-width="5" />
<line x1="296.0" y1="198.4" x2="329.5" y2="198.4" stroke="#111" stroke-width="5" />
<line x1="312.0" y1="158.2" x2="329.5" y2="158.2" stroke="#111" stroke-width="5" />
<line x1="296.0" y1="118.1" x2="329.5" y2="118.1" stroke="#111" stroke-width="5" />
<line x1="312.0" y1="77.9" x2="329.5" y2="77.9" stroke="#111" stroke-width="5" />
<line x1="296.0" y1="37.8" x2="329.5" y2="37.8" stroke="#111" stroke-width="5" />
<line x1="296.0" y1="1323.4" x2="329.5" y2="1323.4" stroke="#111" stroke-width="5" />
<line x1="312.0" y1="1284.2" x2="329.5" y2="1284.2" stroke="#111" stroke-width="5" />
<line x1="296.0" y1="1244.9" x2="329.5" y2="1244.9" stroke="#111" stroke-width="5" />
<line x1="312.0" y1="1205.7" x2="329.5" y2="1205.7" stroke="#111" stroke-width="5" />
<line x1="296.0" y1="1166.4" x2="329.5" y2="1166.4" stroke="#111" stroke-width="5" />
<line x1="312.0" y1="1127.2" x2="329.5" y2="1127.2" stroke="#111" stroke-width="5" />
<line x1="296.0" y1="1087.9" x2="329.5" y2="1087.9" stroke="#111" stroke-width="5" />
<line x1="312.0" y1="1048.7" x2="329.5" y2="1048.7" stroke="#111" stroke-width="5" />
<line x1="296.0" y1="1009.4" x2="329.5" y2="1009.4" stroke="#111" stroke-width="5" />
<line x1="312.0" y1="970.1" x2="329.5" y2="970.1" stroke="#111" stroke-width="5" />
<line x1="296.0" y1="930.9" x2="329.5" y2="930.9" stroke="#111" stroke-width="5" />
<line x1="312.0" y1="891.6" x2="329.5" y2="891.6" stroke="#111" stroke-width="5" />
<line x1="296.0" y1="852.4" x2="329.5" y2="852.4" stroke="#111" stroke-width="5" />
<line x1="312.0" y1="813.1" x2="329.5" y2="813.1" stroke="#111" stroke-width="5" />
<line x1="296.0" y1="773.9" x2="329.5" y2="773.9" stroke="#111" stroke-width="5" />
<line x1="312.0" y1="734.6" x2="329.5" y2="734.6" stroke="#111" stroke-width="5" />
<line x1="296.0" y1="695.4" x2="329.5" y2="695.4" stroke="#111" stroke-width="5" />
<line x1="296.0" y1="1968.2" x2="329.5" y2="1968.2" stroke="#111" stroke-width="5" />
<line x1="312.0" y1="1928.0" x2="329.5" y2="1928.0" stroke="#111" stroke-width="5" />
<line x1="296.0" y1="1887.9" x2="326.0" y2="1887.9" stroke="#111" stroke-width="5" />
<line x1="312.0" y1="1847.8" x2="326.0" y2="1847.8" stroke="#111" stroke-width="5" />
<line x1="296.0" y1="1807.6" x2="326.0" y2="1807.6" stroke="#111" stroke-width="5" />
<line x1="312.0" y1="1767.5" x2="326.0" y2="1767.5" stroke="#111" stroke-width="5" />
<line x1="296.0" y1="1727.3" x2="326.0" y2="1727.3" stroke="#111" stroke-width="5" />
<line x1="312.0" y1="1687.2" x2="326.0" y2="1687.2" stroke="#111" stroke-width="5" />
<line x1="296.0" y1="1647.0" x2="326.0" y2="1647.0" stroke="#111" stroke-width="5" />
<line x1="312.0" y1="1606.8" x2="326.0" y2="1606.8" stroke="#111" stroke-width="5" />
<line x1="296.0" y1="1566.7" x2="326.0" y2="1566.7" stroke="#111" stroke-width="5" />
<line x1="312.0" y1="1526.5" x2="326.0" y2="1526.5" stroke="#111" stroke-width="5" />
<line x1="296.0" y1="1486.4" x2="326.0" y2="1486.4" stroke="#111" stroke-width="5" />
<line x1="312.0" y1="1446.2" x2="326.0" y2="1446.2" stroke="#111" stroke-width="5" />
<line x1="296.0" y1="1406.1" x2="326.0" y2="1406.1" stroke="#111" stroke-width="5" />
<line x1="312.0" y1="1366.0" x2="326.0" y2="1366.0" stroke="#111" stroke-width="5" />
<line x1="296.0" y1="1325.8" x2="329.5" y2="1325.8" stroke="#111" stroke-width="5" />
<text x="172.5" y="694.7" font-size="56" text-anchor="start" font-weight="normal" fill="#111"  letter-spacing="2.5">-2.0</text>
<text x="172.5" y="614.4" font-size="56" text-anchor="start" font-weight="normal" fill="#111"  letter-spacing="2.5">-1.5</text>
<text x="172.5" y="534.1" font-size="56" text-anchor="start" font-weight="normal" fill="#111"  letter-spacing="2.5">-1.0</text>
<text x="172.5" y="453.8" font-size="56" text-anchor="start" font-weight="normal" fill="#111"  letter-spacing="2.5">-0.5</text>
<text x="193.7" y="373.5" font-size="56" text-anchor="start" font-weight="normal" fill="#111"  letter-spacing="2.5">0.0</text>
<text x="193.7" y="293.2" font-size="56" text-anchor="start" font-weight="normal" fill="#111"  letter-spacing="2.5">0.5</text>
<text x="193.7" y="212.9" font-size="56" text-anchor="start" font-weight="normal" fill="#111"  letter-spacing="2.5">1.0</text>
<text x="193.7" y="132.6" font-size="56" text-anchor="start" font-weight="normal" fill="#111"  letter-spacing="2.5">1.5</text>
<text x="193.7" y="52.3" font-size="56" text-anchor="start" font-weight="normal" fill="#111"  letter-spacing="2.5">2.0</text>
<text x="172.5" y="1337.9" font-size="56" text-anchor="start" font-weight="normal" fill="#111"  letter-spacing="2.5">-2.0</text>
<text x="172.5" y="1259.4" font-size="56" text-anchor="start" font-weight="normal" fill="#111"  letter-spacing="2.5">-1.5</text>
<text x="172.5" y="1180.9" font-size="56" text-anchor="start" font-weight="normal" fill="#111"  letter-spacing="2.5">-1.0</text>
<text x="172.5" y="1102.4" font-size="56" text-anchor="start" font-weight="normal" fill="#111"  letter-spacing="2.5">-0.5</text>
<text x="193.7" y="1023.9" font-size="56" text-anchor="start" font-weight="normal" fill="#111"  letter-spacing="2.5">0.0</text>
<text x="193.7" y="945.4" font-size="56" text-anchor="start" font-weight="normal" fill="#111"  letter-spacing="2.5">0.5</text>
<text x="193.7" y="866.9" font-size="56" text-anchor="start" font-weight="normal" fill="#111"  letter-spacing="2.5">1.0</text>
<text x="193.7" y="788.4" font-size="56" text-anchor="start" font-weight="normal" fill="#111"  letter-spacing="2.5">1.5</text>
<text x="193.7" y="709.9" font-size="56" text-anchor="start" font-weight="normal" fill="#111"  letter-spacing="2.5">2.0</text>
<text x="172.5" y="1982.7" font-size="56" text-anchor="start" font-weight="normal" fill="#111"  letter-spacing="2.5">-2.0</text>
<text x="172.5" y="1902.4" font-size="56" text-anchor="start" font-weight="normal" fill="#111"  letter-spacing="2.5">-1.5</text>
<text x="172.5" y="1822.1" font-size="56" text-anchor="start" font-weight="normal" fill="#111"  letter-spacing="2.5">-1.0</text>
<text x="172.5" y="1741.8" font-size="56" text-anchor="start" font-weight="normal" fill="#111"  letter-spacing="2.5">-0.5</text>
<text x="193.7" y="1661.5" font-size="56" text-anchor="start" font-weight="normal" fill="#111"  letter-spacing="2.5">0.0</text>
<text x="193.7" y="1581.2" font-size="56" text-anchor="start" font-weight="normal" fill="#111"  letter-spacing="2.5">0.5</text>
<text x="193.7" y="1500.9" font-size="56" text-anchor="start" font-weight="normal" fill="#111"  letter-spacing="2.5">1.0</text>
<text x="193.7" y="1420.6" font-size="56" text-anchor="start" font-weight="normal" fill="#111"  letter-spacing="2.5">1.5</text>
<line x1="329.5" y1="1968.0" x2="329.5" y2="1984.0" stroke="#111" stroke-width="5" />
<line x1="446.2" y1="1968.0" x2="446.2" y2="1999.0" stroke="#111" stroke-width="5" />
<text x="419.5" y="2058.0" font-size="56" text-anchor="start" font-weight="normal" fill="#111"  letter-spacing="2.5">-6</text>
<line x1="562.9" y1="1968.0" x2="562.9" y2="1984.0" stroke="#111" stroke-width="5" />
<line x1="679.5" y1="1968.0" x2="679.5" y2="1999.0" stroke="#111" stroke-width="5" />
<text x="652.9" y="2058.0" font-size="56" text-anchor="start" font-weight="normal" fill="#111"  letter-spacing="2.5">-4</text>
<line x1="796.2" y1="1968.0" x2="796.2" y2="1984.0" stroke="#111" stroke-width="5" />
<line x1="912.9" y1="1968.0" x2="912.9" y2="1999.0" stroke="#111" stroke-width="5" />
<text x="886.2" y="2058.0" font-size="56" text-anchor="start" font-weight="normal" fill="#111"  letter-spacing="2.5">-2</text>
<line x1="1029.6" y1="1968.0" x2="1029.6" y2="1984.0" stroke="#111" stroke-width="5" />
<line x1="1146.2" y1="1968.0" x2="1146.2" y2="1999.0" stroke="#111" stroke-width="5" />
<text x="1130.2" y="2058.0" font-size="56" text-anchor="start" font-weight="normal" fill="#111"  letter-spacing="2.5">0</text>
<line x1="1262.9" y1="1968.0" x2="1262.9" y2="1984.0" stroke="#111" stroke-width="5" />
<line x1="1379.6" y1="1968.0" x2="1379.6" y2="1999.0" stroke="#111" stroke-width="5" />
<text x="1363.5" y="2058.0" font-size="56" text-anchor="start" font-weight="normal" fill="#111"  letter-spacing="2.5">2</text>
<line x1="1496.3" y1="1968.0" x2="1496.3" y2="1984.0" stroke="#111" stroke-width="5" />
<line x1="1613.0" y1="1968.0" x2="1613.0" y2="1999.0" stroke="#111" stroke-width="5" />
<text x="1596.9" y="2058.0" font-size="56" text-anchor="start" font-weight="normal" fill="#111"  letter-spacing="2.5">4</text>
<line x1="1729.6" y1="1968.0" x2="1729.6" y2="1984.0" stroke="#111" stroke-width="5" />
<line x1="1846.3" y1="1968.0" x2="1846.3" y2="1999.0" stroke="#111" stroke-width="5" />
<text x="1830.2" y="2058.0" font-size="56" text-anchor="start" font-weight="normal" fill="#111"  letter-spacing="2.5">6</text>
<line x1="1963.0" y1="1968.0" x2="1963.0" y2="1984.0" stroke="#111" stroke-width="5" />
<text x="1950.0" y="87.0" font-size="70" text-anchor="end" font-weight="normal" fill="#000" >a</text>
<text x="1912.5" y="754.0" font-size="70" text-anchor="start" font-weight="normal" fill="#000" textLength="44" lengthAdjust="spacingAndGlyphs" >b</text>
<text x="1952.0" y="1381.0" font-size="70" text-anchor="end" font-weight="normal" fill="#000" >c</text>
<text x="1624.5" y="612" font-size="58.5" font-weight="bold" fill="#000"><tspan textLength="291" lengthAdjust="spacingAndGlyphs">PURE WO</tspan><tspan x="1916" y="638" font-size="38">3</tspan></text>
<text x="1421" y="1277" font-size="50" font-weight="bold" fill="#000"><tspan textLength="392" lengthAdjust="spacingAndGlyphs">Gd doped WO</tspan><tspan x="1818" y="1303" font-size="50">3</tspan><tspan x="1865" y="1277" textLength="80" lengthAdjust="spacingAndGlyphs">FM</tspan></text>
<text x="1385" y="1910" font-size="50" font-weight="bold" fill="#000"><tspan textLength="389" lengthAdjust="spacingAndGlyphs">Gd doped WO</tspan><tspan x="1779" y="1937" font-size="50">3</tspan><tspan x="1826" y="1910" textLength="122" lengthAdjust="spacingAndGlyphs">AFM</tspan></text>
<text x="988" y="2181" font-size="77" font-weight="bold" fill="#000"><tspan textLength="135" lengthAdjust="spacingAndGlyphs">E-E</tspan><tspan x="1128" y="2203" font-size="46">f</tspan><tspan x="1148" y="2181" textLength="157" lengthAdjust="spacingAndGlyphs">(eV)</tspan></text>
<text transform="translate(88,1394) rotate(-90)" x="0" y="0" font-size="96" font-weight="bold" fill="#000" textLength="756" lengthAdjust="spacingAndGlyphs">PDOS (ARB UNITS)</text>
</svg>
</body></html>
